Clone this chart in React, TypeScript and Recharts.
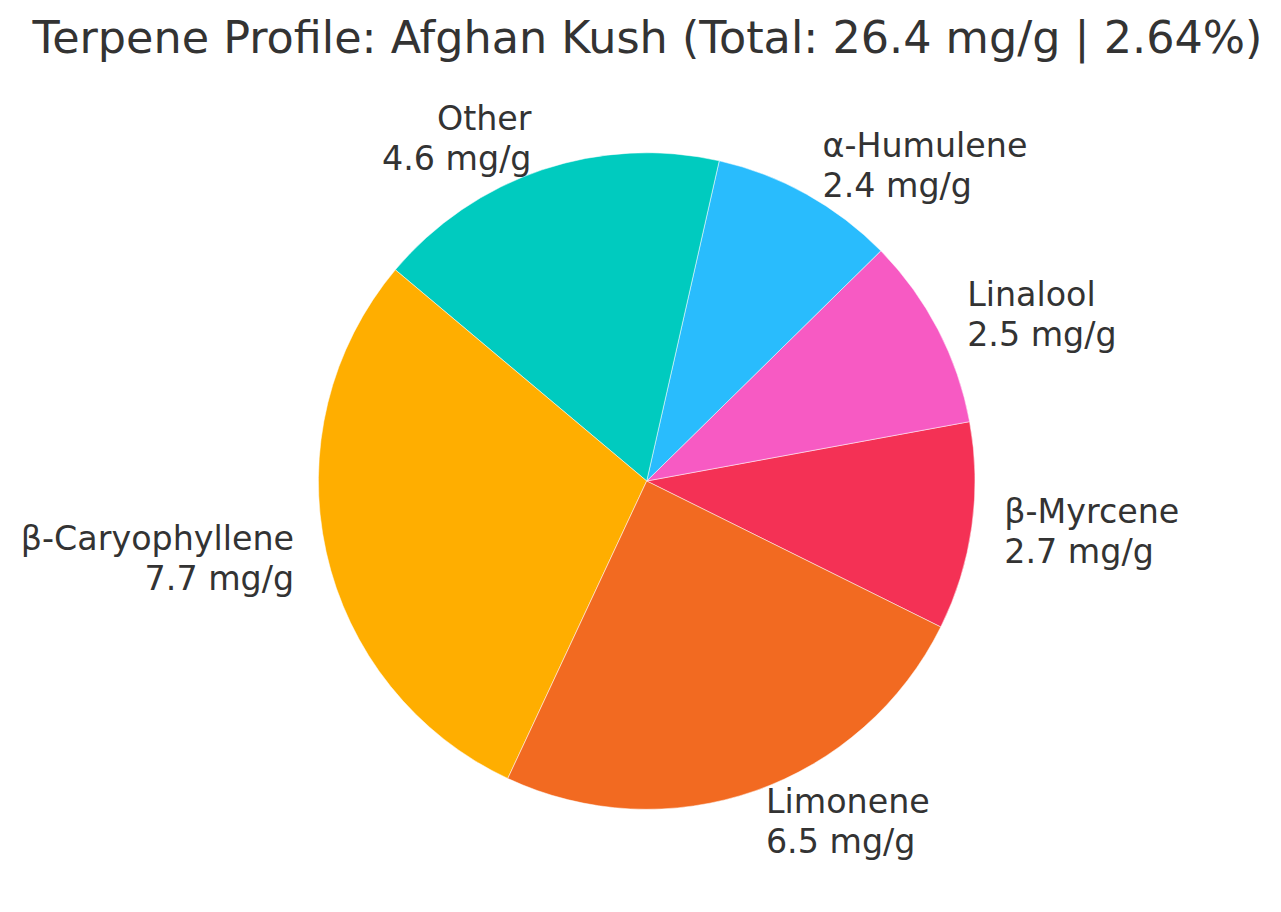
import { PieChart, Pie, Cell } from 'recharts';

const names = ['β-Myrcene', 'Linalool', 'α-Humulene', 'Other', 'β-Caryophyllene', 'Limonene'];
const values = [2.7, 2.5, 2.4, 4.6, 7.7, 6.5];
const colors = ['#F43155', '#F75AC3', '#29BCFD', '#00CBBF', '#FFAE00', '#F26A21'];

const title = 'Terpene Profile: Afghan Kush (Total: 26.4 mg/g | 2.64%)';

const data = names.map((name, i) => ({ name, value: values[i] }));

const RADIAN = Math.PI / 180;
const FONT = 'DejaVu Sans, sans-serif';
const LABEL_SIZE = 33.3;

const renderLabel = (props: any) => {
    const { cx, cy, midAngle, outerRadius, name, value } = props;
    const r = outerRadius * 1.1;
    const x = cx + r * Math.cos(midAngle * RADIAN);
    const y = cy - r * Math.sin(midAngle * RADIAN);
    const anchor = x >= cx ? 'start' : 'end';
    const lh = LABEL_SIZE * 1.2;
    return (
        <text
            x={x}
            y={y}
            textAnchor={anchor}
            fill="#333333"
            fontFamily={FONT}
            fontSize={LABEL_SIZE}
        >
            <tspan x={x} y={y - lh / 2} dominantBaseline="central">
                {name}
            </tspan>
            <tspan x={x} y={y + lh / 2} dominantBaseline="central">
                {`${value.toFixed(1)} mg/g`}
            </tspan>
        </text>
    );
};

const App = () => {
    return (
        <div style={{ position: 'absolute', left: 0, top: 0, width: 1281, height: 912, background: '#fff' }}>
            <svg width={1281} height={80} style={{ position: 'absolute', left: 0, top: 0 }}>
                <text
                    x={647.5}
                    y={53}
                    textAnchor="middle"
                    fill="#333333"
                    fontFamily={FONT}
                    fontSize={44.5}
                >
                    {title}
                </text>
            </svg>
            <div style={{ position: 'absolute', left: 0, top: 0 }}>
                <PieChart width={1281} height={912} margin={{ top: 0, right: 0, bottom: 0, left: 0 }}>
                    <Pie
                        data={data}
                        dataKey="value"
                        nameKey="name"
                        cx={646.7}
                        cy={481}
                        outerRadius={328.3}
                        startAngle={-26.4}
                        endAngle={333.6}
                        stroke="#ffffff"
                        strokeWidth={0.5}
                        label={renderLabel}
                        labelLine={false}
                        isAnimationActive={false}
                    >
                        {data.map((d, i) => (
                            <Cell key={d.name} fill={colors[i]} />
                        ))}
                    </Pie>
                </PieChart>
            </div>
        </div>
    );
};

export default App;
